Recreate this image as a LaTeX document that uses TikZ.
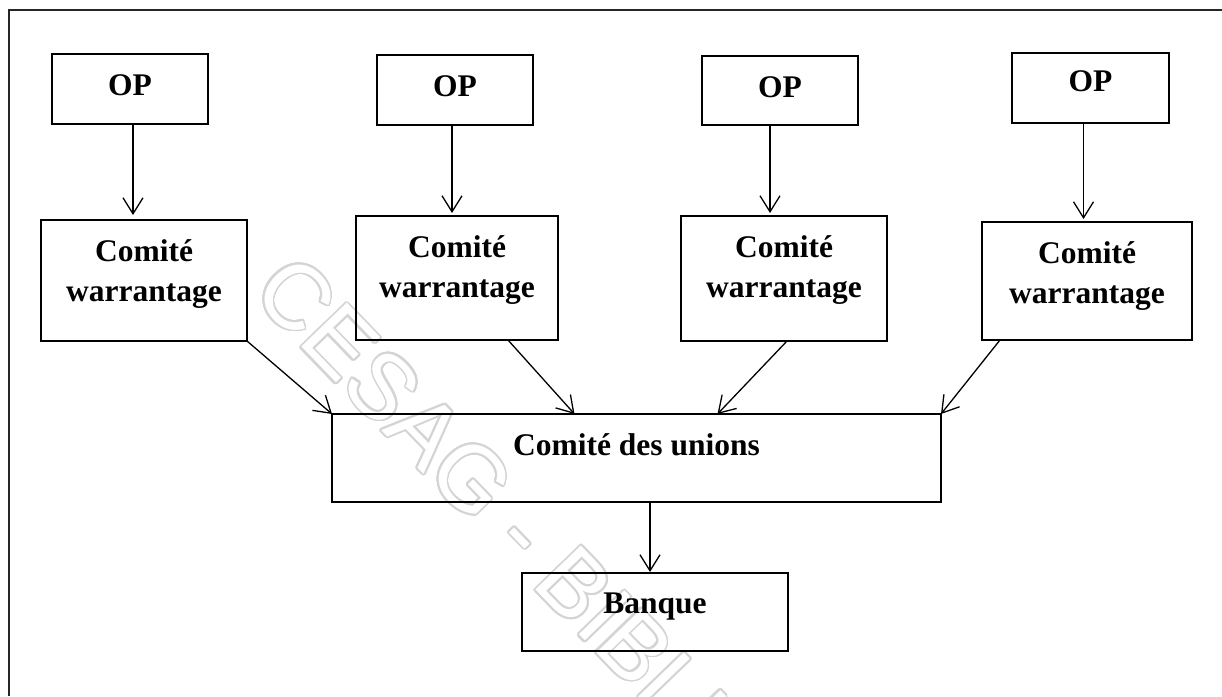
\documentclass[tikz,border=0pt]{standalone}
\usepackage{fontspec}
\setmainfont{Liberation Serif}
\newfontfamily\wmfont{Liberation Sans}
\usepackage{contour}
\contourlength{1.8pt}
\contournumber{24}
\usetikzlibrary{arrows.meta,calc}

\begin{document}
\begin{tikzpicture}[x=1pt,y=-1pt,
  box/.style={draw, line width=1.3pt, rectangle, inner sep=0pt, outer sep=0pt},
  lbl/.style={inner sep=0pt, anchor=base, font=\fontsize{31.5}{34}\selectfont\bfseries},
  arr/.style={line width=1.3pt, -{Straight Barb[length=16pt,width=20pt,line width=1.3pt]}}]

\useasboundingbox (0,0) rectangle (1222,696);

% watermark, hollow letters
\begin{scope}
  \clip (0,0) rectangle (1222,696);
  \node[inner sep=0pt, anchor=base west, rotate=-46,
        font=\fontsize{92}{92}\selectfont\wmfont] (wm) at (250,294)
    {\contour{black!17}{\color{white}CESAG - BIBLIOTHEQUE}};
\end{scope}

% frame (top and left sides)
\coordinate (fb) at (9,696);
\coordinate (ftl) at (9,10);
\coordinate (ftr) at (1222,10);
\draw[line width=2pt, black!85] (fb) -- (ftl) -- (ftr);

% OP boxes
\node[box, minimum width=156pt, minimum height=70pt] (op1) at (130,89) {};
\node[box, minimum width=156pt, minimum height=70pt] (op2) at (455,90) {};
\node[box, minimum width=156pt, minimum height=69pt] (op3) at (780,90.5) {};
\node[box, minimum width=157pt, minimum height=70pt] (op4) at (1090.5,88) {};

\node[lbl] (t1) at (130,95) {OP};
\node[lbl] (t2) at (455,96) {OP};
\node[lbl] (t3) at (780,97) {OP};
\node[lbl] (t4) at (1090.5,91) {OP};

% committee boxes
\node[box, minimum width=206pt, minimum height=121pt] (c1) at (144,280.5) {};
\node[box, minimum width=202pt, minimum height=124pt] (c2) at (457,278) {};
\node[box, minimum width=206pt, minimum height=125pt] (c3) at (784,278.5) {};
\node[box, minimum width=210pt, minimum height=118pt] (c4) at (1087,281) {};

\node[lbl] (c1a) at (144,261) {Comité};
\node[lbl] (c1b) at (144,301) {warrantage};
\node[lbl] (c2a) at (457,257) {Comité};
\node[lbl] (c2b) at (457,297) {warrantage};
\node[lbl] (c3a) at (784,257) {Comité};
\node[lbl] (c3b) at (784,297) {warrantage};
\node[lbl] (c4a) at (1087,263) {Comité};
\node[lbl] (c4b) at (1087,303) {warrantage};

% union committee and bank
\node[box, minimum width=609pt, minimum height=88pt] (un) at (636.5,458) {};
\node[lbl] (unt) at (636.5,455) {Comité des unions};
\node[box, minimum width=266pt, minimum height=78pt] (bq) at (655,612) {};
\node[lbl] (bqt) at (655,613) {Banque};

% OP -> committee
\draw[arr, shorten >=5pt] ([xshift=3pt]op1.south) -- ([xshift=3pt]op1.south |- c1.north);
\draw[arr, shorten >=3pt] ([xshift=-3pt]op2.south) -- ([xshift=-3pt]op2.south |- c2.north);
\draw[arr, shorten >=3pt] ([xshift=-10pt]op3.south) -- ([xshift=-10pt]op3.south |- c3.north);
\draw[arr, shorten >=3pt] ([xshift=-7pt]op4.south) -- ([xshift=-7pt]op4.south |- c4.north);

% committee -> union committee
\draw[arr] (c1.south east) -- (un.north west);
\draw[arr] ([xshift=51pt]c2.south) -- ([xshift=-62pt]un.north);
\draw[arr] ([xshift=3pt]c3.south) -- ([xshift=81pt]un.north);
\draw[arr] ([xshift=18pt]c4.south west) -- (un.north east);

% union committee -> bank
\draw[arr, shorten >=1pt] ([xshift=-5pt]bq.north |- un.south) -- ([xshift=-5pt]bq.north);
\end{tikzpicture}
\end{document}
